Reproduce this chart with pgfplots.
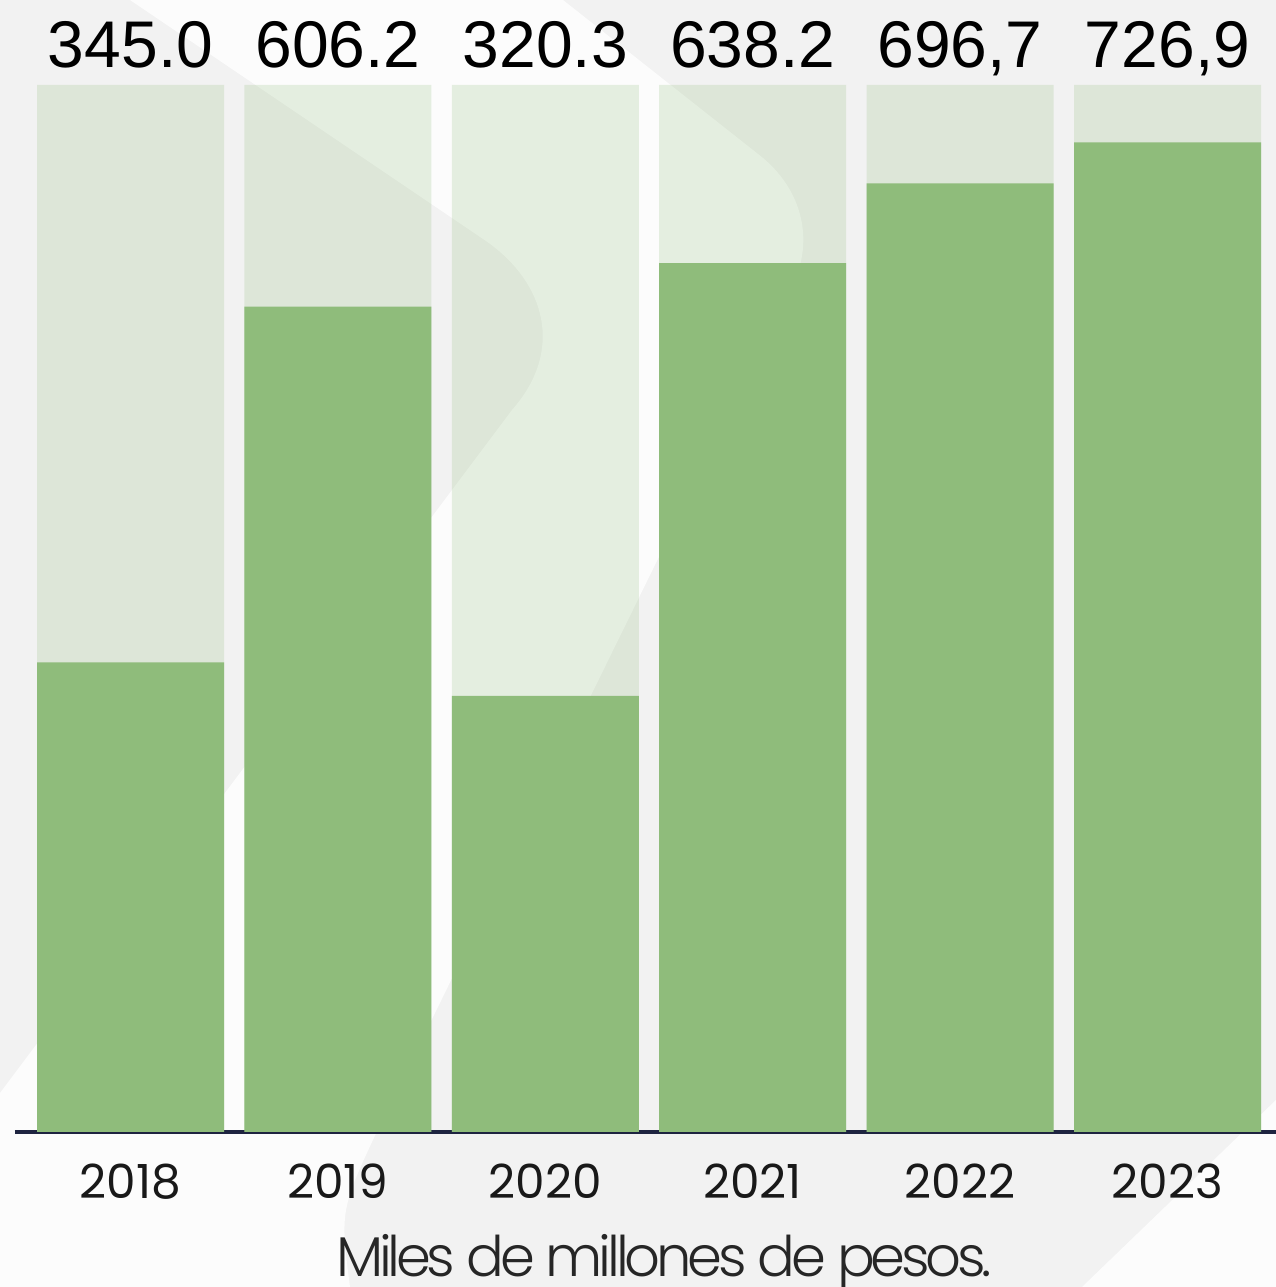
\documentclass[border=0pt]{standalone}
\usepackage{fontspec}
\setmainfont{Poppins}
\newfontfamily\helv{Liberation Sans}
\newfontfamily\poplight{Poppins}[UprightFont={* Light}, LetterSpace=-7.6]
\usepackage{pgfplots}
\usepackage{pgfplotstable}
\pgfplotsset{compat=1.18}

\definecolor{barGreen}{HTML}{8FBC7B}
\definecolor{navy}{HTML}{1E2440}
\definecolor{bgGray}{HTML}{F2F2F2}
\definecolor{bgLight}{HTML}{FCFCFC}

% ingresos por año (miles de millones de pesos)
\pgfplotstableread{
x y tope label
0 345.0 769 345.0
1 606.2 769 606.2
2 320.3 769 320.3
3 638.2 769 638.2
4 696.7 769 {696,7}
5 726.9 769 {726,9}
}\ingresos

\begin{document}
\begin{tikzpicture}
% fondo decorativo (coordenadas en px de la imagen, y hacia abajo)
\begin{scope}[x=0.5pt,y=-0.5pt,yshift=643.5pt]
\fill[bgGray] (0,0) rectangle (1276,1287);
\fill[bgLight] (130,0) -- (486,241) .. controls (545,282) and (565,350) .. (512,410)
  -- (0,1093) -- (0,1287) -- (350,1287) .. controls (340,1210) .. (380,1125) -- (790,290)
  .. controls (815,245) and (805,190) .. (758,154) -- (563,0) -- cycle;
\fill[bgLight] (1276,1100) -- (1276,1287) -- (1082,1287) -- cycle;
\end{scope}

\begin{axis}[
    at={(7.5pt,77.5pt)}, anchor=south west,
    scale only axis,
    width=630.5pt, height=523.5pt,
    xmin=-0.557, xmax=5.523,
    ymin=0, ymax=769,
    axis y line=none,
    axis x line*=bottom,
    x axis line style={navy, line width=2.25pt},
    xtick={0,...,5},
    xticklabels={2018,2019,2020,2021,2022,2023},
    major tick length=0pt,
    xticklabel style={font=\fontsize{23.5}{23.5}\selectfont, text=black!90, anchor=base, yshift=-33pt},
    xlabel={Miles de millones de pesos.},
    xlabel style={at={(axis description cs:0.5147,0)}, anchor=base, yshift=-72pt,
        font=\poplight\fontsize{28}{28}\selectfont, text=black!85},
    clip=false,
]
\addplot[ybar, bar width=93.5pt, fill=barGreen, fill opacity=0.21, draw=none,
    point meta=explicit symbolic,
    nodes near coords,
    nodes near coords align={anchor=base},
    every node near coord/.append style={font=\helv\fontsize{33}{33}\selectfont,
        text=black, text opacity=1, yshift=8.5pt}]
    table[x=x, y=tope, meta=label] {\ingresos};
\addplot[ybar, bar width=93.5pt, fill=barGreen, draw=none]
    table[x=x, y=y] {\ingresos};
\end{axis}
\pgfresetboundingbox
\path (0,0) rectangle (638pt,643.5pt);
\end{tikzpicture}
\end{document}
